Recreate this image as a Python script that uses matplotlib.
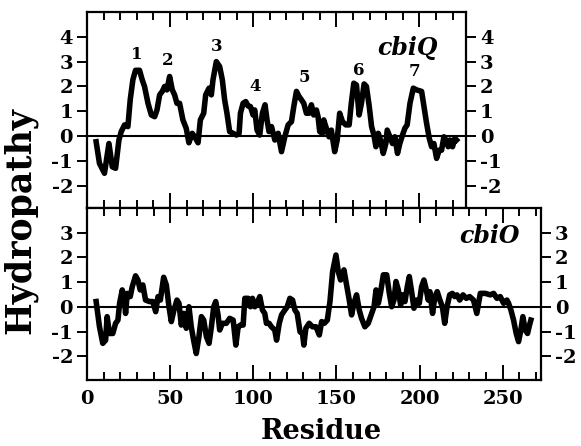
import matplotlib
matplotlib.use('Agg')
import matplotlib.pyplot as plt
from matplotlib.ticker import MultipleLocator

# cbiQ hydropathy profile (residue, value)
cbiq_res = [5.5, 7.5, 10.5, 13.2, 15.2, 17.2, 19.2, 20.6, 22.6, 24.6, 26, 27.6, 29.2, 31.6,
            33.2, 34.6, 36.7, 38.7, 40.7, 42.1, 43.7, 45.3, 46.7, 48.1, 49.7, 51.3, 52.7,
            54.1, 55.7, 57.7, 59.7, 61.3, 63.3, 64.8, 66.8, 68.2, 70.2, 71.4, 73.4, 74.8,
            75.8, 77.8, 79.8, 81.4, 82.8, 84.2, 85.8, 87.9, 89.9, 91.5, 92.3, 93.9, 95.5,
            96.9, 98.3, 99.9, 100.9, 102.3, 103.9, 105.5, 107.1, 108.3, 109.5, 111, 113,
            115, 117, 119, 121, 123, 124.4, 126, 127.6, 129, 130.4, 132, 133.6, 135, 136.4,
            138, 139, 140, 141.6, 142.4, 144, 145.6, 147, 149, 150.5, 152, 153.7, 155.7,
            157.7, 159, 160.5, 162.1, 163.7, 165.1, 166.7, 168.1, 169.8, 171.2, 172.6,
            173.8, 175.2, 176.6, 178.2, 179.8, 180.6, 182.2, 183.8, 185.2, 186.8, 188.2,
            189.8, 191.2, 192.6, 194.3, 196.3, 198.3, 201.3, 202.7, 204.3, 205.9, 207.3,
            208.7, 210.3, 211.9, 213.3, 214.7, 215.9, 217.3, 218.3, 219.9, 221.3, 222.3]
cbiq_val = [-0.23, -1.1, -1.5, -0.3, -1.24, -1.3, -0.16, 0.18, 0.45, 0.38, 1.46, 2.27, 2.65,
            2.65, 2.27, 2.0, 1.32, 0.85, 0.78, 1.05, 1.66, 1.8, 2.0, 1.86, 2.4, 1.86, 1.66,
            1.32, 1.32, 0.65, 0.31, -0.27, 0.11, -0.03, -0.27, 0.65, 0.92, 1.66, 1.93, 1.66,
            2.27, 3.0, 2.8, 2.27, 1.46, 0.92, 0.18, 0.11, 0.04, 0.11, 0.92, 1.32, 1.39,
            1.21, 1.19, 0.85, 1.05, 0.24, 0.04, 0.92, 1.26, 0.65, 0.18, 0.38, -0.16,
            0.11, -0.63, -0.03, 0.45, 0.58, 1.19, 1.8, 1.59, 1.46, 1.32, 0.92, 0.92, 1.26, 0.85,
            1.05, 0.78, 0.18, 0.11, 0.65, 0.31, -0.03, 0.24, -0.63, -0.16, 0.92, 0.58, 0.45,
            0.45, 1.32, 2.13, 2.06, 0.85, 1.32, 2.1, 2.0, 1.19, 0.38, 0.04,
            -0.43, 0.11, -0.16, -0.7, -0.3, 0.24, -0.03, -0.3, -0.03, -0.7, -0.3,
            0.04, 0.31, 0.45, 1.32, 1.93, 1.86, 1.8, 1.19, 0.51, -0.09, -0.43,
            -0.3, -0.9, -0.57, -0.57, -0.03, -0.16, -0.43, -0.16, -0.43, -0.09, -0.16]

# cbiO hydropathy profile
cbio_res = [5.5, 7.5, 9.5, 11.2, 12.1, 13.5, 15.5, 17.2, 18.6, 19.6, 21.2, 22.6, 23.2, 24.2,
            26, 27.2, 29.2, 30.6, 32, 33.6, 35.2, 37.6, 39.6, 41.3, 42.7, 44.1, 46.1, 47.7,
            49.3, 50.7, 52.3, 54.1, 55.3, 56.7, 58.1, 59.7, 61.3, 62.7, 64.1, 65.7, 67.3,
            68.8, 70.2, 71.8, 73.4, 74.8, 76.2, 77.4, 78.8, 79.8, 81.4, 83.8, 85.8, 87.9,
            89.5, 90.9, 92.3, 93.9, 94.9, 96.9, 98.3, 99.5, 100.9, 102.3, 103.9, 105.5,
            106.9, 107.9, 109.5, 110.9, 112.9, 114, 115.6, 117, 119, 120.4, 122, 123.6, 125,
            126.4, 128.1, 129.6, 130.4, 131.6, 133.6, 135.6, 137.7, 139.7, 141.1, 142.7,
            144.5, 146.1, 147.7, 149.7, 151.1, 152.5, 154.5, 156.1, 157.7, 159.1, 160.5,
            162.1, 163.7, 165.1, 167.1, 169.1, 171.2, 172.6, 173.8, 175.2, 176.6, 178.2,
            180.2, 181.8, 183.2, 184.6, 185.8, 187.2, 188.6, 189.8, 191.2, 192.6, 193.8,
            195.2, 196.6, 198.2, 199.8, 201.2, 202.6, 203.8, 205.2, 206.2, 207.8, 209.2,
            210.6, 212.2, 213.7, 215.1, 216.5, 218.1, 219.7, 221.1, 222.5, 224.1, 226.1,
            228.1, 230.1, 232.4, 234.4, 236.5, 239.5, 242.5, 244.5, 246.5, 248.5, 250.5,
            252.5, 253.5, 254.9, 256.5, 258.1, 259.5, 260.9, 262.1, 263.5, 264.9, 266.1,
            266.9]
cbio_val = [0.22, -0.8, -1.47, -1.34, -0.39, -1.07, -1.07, -0.66, -0.53, 0.15, 0.69, 0.22,
            -0.26, 0.55, 0.42, 0.82, 1.26, 1.09, 0.69, 0.89, 0.28, 0.22, 0.22, -0.19, 0.42,
            0.28, 1.2, 0.89, 0.01, -0.59, -0.12, 0.28, 0.15, -0.73, -0.26, -0.86, 0.01, -0.8,
            -1.34, -1.88, -1.2, -0.39, -0.53, -1.2, -1.47, -0.8, 0.01, 0.22, -0.32, -0.93,
            -0.66, -0.66, -0.46, -0.53, -1.54, -0.8, -0.73, -0.73, 0.35, 0.35, 0.01, 0.35,
            0.01, 0.15, 0.42, -0.12, -0.26, -0.66, -0.66, -0.8, -0.93, -1.34, -0.66, -0.32,
            -0.12, 0.01, 0.35, 0.28, -0.12, -0.26, -1.0, -1.07, -1.54, -0.86, -0.66, -0.8,
            -0.8, -1.13, -0.59, -0.66, -0.53, 0.22, 1.43, 2.1, 1.43, 1.09, 1.5, 0.89, 0.28,
            -0.32, 0.15, 0.49, -0.12, -0.46, -0.8, -0.66, -0.26, 0.01, 0.69, 0.15, 0.62, 1.3,
            1.3, 0.55, 0.01, 0.28, 1.03, 0.69, 0.08, 0.49, 0.22, 0.82, 1.23, 0.62, -0.05,
            0.28, 0.15, 0.82, 1.09, 0.76, 0.28, 0.62, -0.26, 0.42, 0.62, 0.28, 0.01, -0.66,
            0.01, 0.49, 0.55, 0.42, 0.49, 0.28, 0.49, 0.35, 0.42, 0.28, -0.26, 0.55, 0.55,
            0.49, 0.55, 0.35, 0.42, 0.15, 0.28, 0.15, -0.12, -0.53, -1.07, -1.4, -0.93,
            -0.39, -0.93, -1.07, -0.73, -0.53]

# transmembrane segment labels on cbiQ
tm_labels = ['1', '2', '3', '4', '5', '6', '7']
tm_x = [30, 48.5, 78, 101, 131, 163.5, 197]
tm_y = [3.3, 3.05, 3.6, 2.0, 2.35, 2.65, 2.6]

top_yticks = [4, 3, 2, 1, 0, -1, -2]
bot_yticks = [3, 2, 1, 0, -1, -2]

plt.rcParams['font.family'] = 'DejaVu Serif'
plt.rcParams['font.weight'] = 'bold'
plt.rcParams['axes.unicode_minus'] = False

fig = plt.figure(figsize=(5.81, 4.46), dpi=100)
ax1 = fig.add_axes([87/581, 1 - 208/446, 379/581, 196/446])
ax2 = fig.add_axes([87/581, 1 - 380/446, 454/581, 172/446])


def style(ax, yticks, xmax, ylim, xlabels):
    ax.set_xlim(0, xmax)
    ax.set_ylim(*ylim)
    for s in ax.spines.values():
        s.set_linewidth(1.6)
    ax.axhline(0, color='black', lw=1.5, zorder=1)
    ax.xaxis.set_major_locator(MultipleLocator(50))
    ax.xaxis.set_minor_locator(MultipleLocator(10))
    ax.tick_params(axis='x', which='major', direction='in', top=True, bottom=True,
                   length=11, width=1.4, labelsize=14, labelbottom=xlabels, pad=7)
    ax.tick_params(axis='x', which='minor', direction='in', top=True, bottom=True,
                   length=6, width=1.4)
    ax.set_yticks(yticks)
    ax.tick_params(axis='y', direction='out', left=True, right=True, labelleft=True,
                   labelright=True, length=7, width=1.4, labelsize=14, pad=3)
    for lab in ax.get_xticklabels() + ax.get_yticklabels():
        lab.set_fontweight('bold')


style(ax1, top_yticks, 228, (-2.9, 5.0), False)
style(ax2, bot_yticks, 273, (-2.95, 4.0), True)

ax1.plot(cbiq_res, cbiq_val, color='black', lw=4, solid_joinstyle='round', zorder=3)
ax2.plot(cbio_res, cbio_val, color='black', lw=4, solid_joinstyle='round', zorder=3)

for t, x, y in zip(tm_labels, tm_x, tm_y):
    ax1.text(x, y, t, ha='center', va='center', fontsize=12, fontweight='bold')

ax1.text(193, 3.55, 'cbiQ', ha='center', va='center', fontsize=17,
         fontweight='bold', fontstyle='italic')
ax2.text(242, 2.85, 'cbiO', ha='center', va='center', fontsize=17,
         fontweight='bold', fontstyle='italic')

fig.text(321/581, 1 - 439/446, 'Residue', ha='center', va='baseline',
         fontsize=19.5, fontweight='bold')
fig.text(20/581, 1 - 221/446, 'Hydropathy', rotation=90, ha='center', va='center',
         fontsize=25, fontweight='bold')

plt.savefig('out.png', dpi=100)
